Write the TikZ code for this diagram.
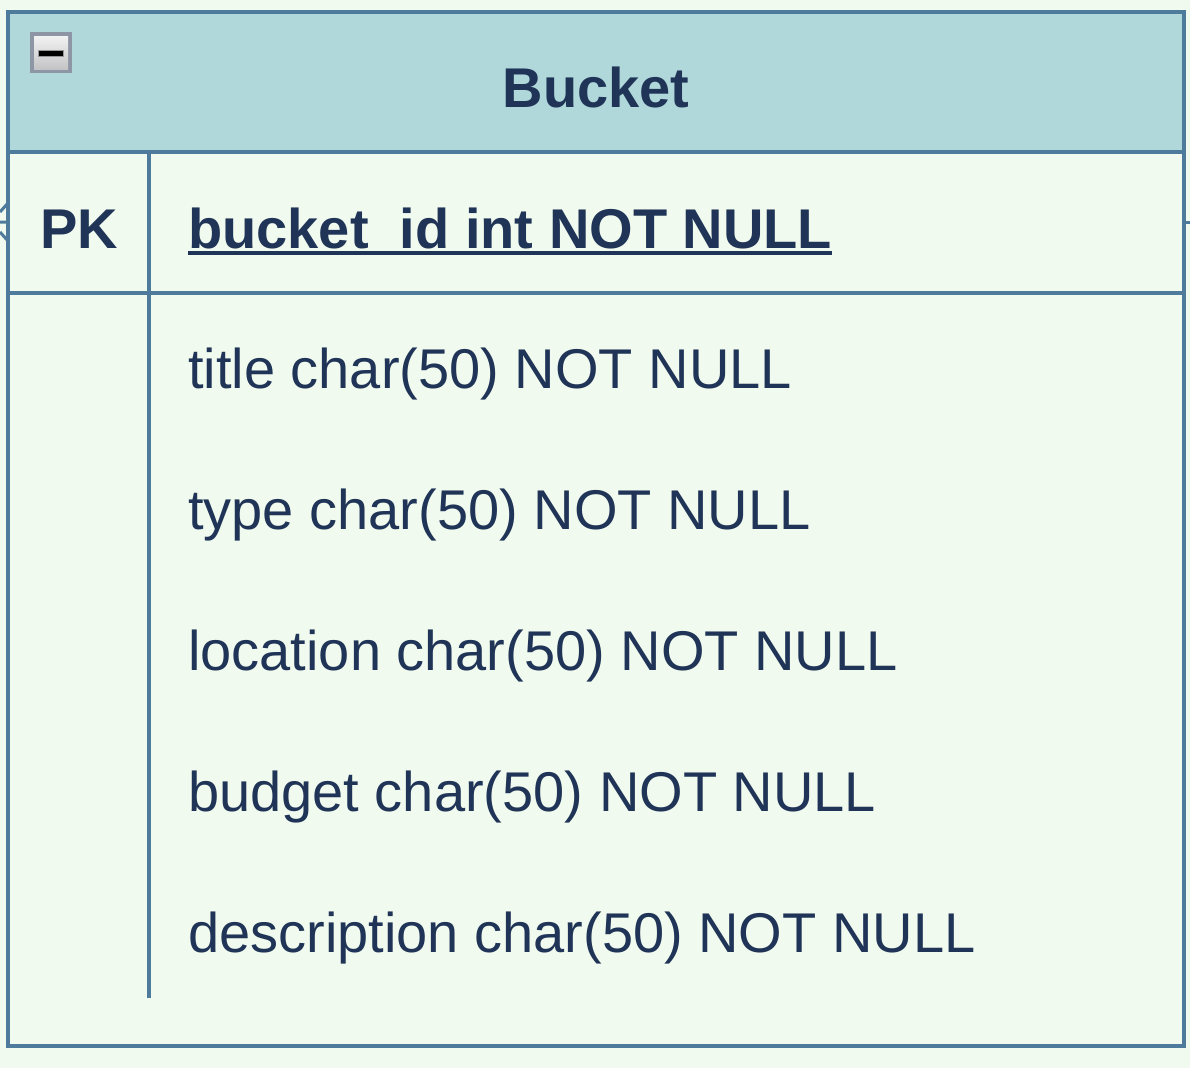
\documentclass[tikz,border=0pt]{standalone}
\usepackage{fontspec}
\setmainfont{Liberation Sans}
\definecolor{bgc}{HTML}{F1FAEE}
\definecolor{hdr}{HTML}{B0D8DA}
\definecolor{strk}{HTML}{4E7B9C}
\definecolor{txt}{HTML}{1F3456}
\begin{document}
\begin{tikzpicture}[x=1pt,y=-1pt,
  ln/.style={draw=strk,line width=4pt},
  field/.style={anchor=base west,inner sep=0pt,text=txt,font=\fontsize{56}{60}\selectfont},
  keyfield/.style={anchor=base west,inner sep=0pt,text=txt,font=\fontsize{56}{60}\selectfont\bfseries},
  ttl/.style={anchor=base,inner sep=0pt,text=txt,font=\fontsize{56}{60}\selectfont\bfseries}]
\useasboundingbox[fill=bgc] (0,0) rectangle (1190,1068);
% header
\fill[hdr] (8,12) rectangle (1184,152);
% lines
\draw[ln] (8,152) -- (1184,152);
\draw[ln] (8,293) -- (1184,293);
\draw[ln] (149,152) -- (149,998);
\draw[ln] (8,12) rectangle (1184,1046);
% collapse icon
\fill[draw=none,fill={rgb,255:red,142;green,149;blue,165}] (30,32) rectangle (72,73);
\shade[top color={rgb,255:red,242;green,242;blue,242},bottom color={rgb,255:red,196;green,196;blue,198}] (34,36) rectangle (68,69);
\draw[fill=black,draw={rgb,255:red,150;green,150;blue,150},line width=0.8pt] (38.5,50) rectangle (63,56);
% texts
\node[ttl] (title) at (596,107) {Bucket};
\node[ttl] (pk) at (79,248) {PK};
\node[keyfield] (pkf) at (188,248) {bucket\_id int NOT NULL};
\draw[draw=txt,line width=4pt] ([yshift=-5pt]pkf.base west) -- ([yshift=-5pt]pkf.base east);
\node[field] (f1) at (188,388) {title char(50) NOT NULL};
\node[field] (f2) at (188,529) {type char(50) NOT NULL};
\node[field] (f3) at (188,670) {location char(50) NOT NULL};
\node[field] (f4) at (188,811) {budget char(50) NOT NULL};
\node[field] (f5) at (188,952) {description char(50) NOT NULL};
% connector fragments
\coordinate (la) at (8,203);
\coordinate (lb) at (8,222);
\coordinate (lc) at (8,241);
\coordinate (la0) at (0,212);
\coordinate (lb0) at (0,222);
\coordinate (lc0) at (0,232);
\draw[draw=strk,line width=3pt] (la) -- (la0) (lb) -- (lb0) (lc) -- (lc0);
\coordinate (ra) at (1186,222);
\coordinate (rb) at (1190,222);
\draw[draw=strk,line width=3pt] (ra) -- (rb);
\end{tikzpicture}
\end{document}
